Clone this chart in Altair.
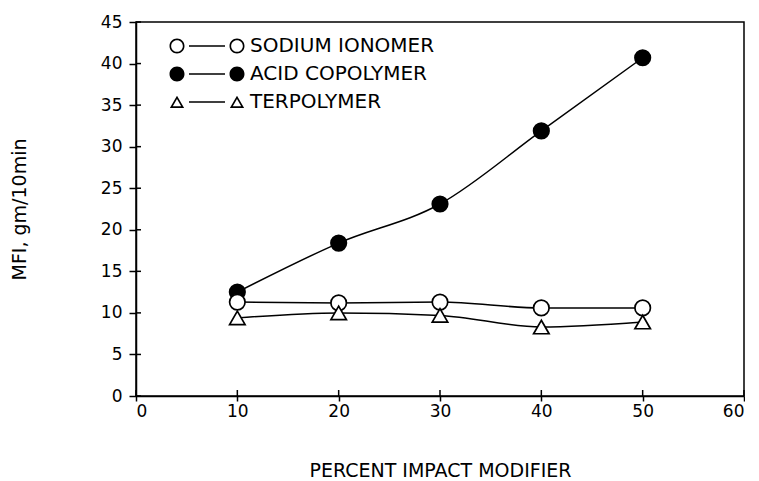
import altair as alt
import pandas as pd

# ---- data ----
pct = [10, 20, 30, 40, 50]
sodium_ionomer = [11.3, 11.2, 11.3, 10.6, 10.6]
acid_copolymer = [12.5, 18.4, 23.1, 31.9, 40.7]
terpolymer = [9.4, 10.0, 9.7, 8.3, 8.9]
series_names = ["SODIUM IONOMER", "ACID COPOLYMER", "TERPOLYMER"]
x_ticks = [0, 10, 20, 30, 40, 50, 60]
y_ticks = [0, 5, 10, 15, 20, 25, 30, 35, 40, 45]

W, H = 608, 374
FONT = "DejaVu Sans"

rows = []
for name, vals in [("ACID COPOLYMER", acid_copolymer),
                   ("SODIUM IONOMER", sodium_ionomer),
                   ("TERPOLYMER", terpolymer)]:
    for p, v in zip(pct, vals):
        rows.append({"pct": p, "mfi": v, "series": name})
df = pd.DataFrame(rows)

xtick_df = pd.DataFrame({"pct": x_ticks})
ytick_df = pd.DataFrame({"mfi": y_ticks})

x_enc = alt.X(
    "pct:Q",
    scale=alt.Scale(domain=[0, 60], nice=False),
    axis=alt.Axis(values=x_ticks, title="PERCENT IMPACT MODIFIER", grid=False,
                  tickSize=5, labelPadding=2, titlePadding=42),
)
y_enc = alt.Y(
    "mfi:Q",
    scale=alt.Scale(domain=[0, 45], nice=False),
    axis=alt.Axis(values=y_ticks, title="MFI, gm/10min", grid=False,
                  tickSize=7, labelPadding=7, titlePadding=71),
)


# ---- legend glyphs "marker — marker", built as filled outlines (symbol units) ----
def f(v):
    return f"{v:.3f}"


def disk(cx, r=1.0):
    return (f"M {f(cx + r)},0 A {r},{r} 0 1,1 {f(cx - r)},0 "
            f"A {r},{r} 0 1,1 {f(cx + r)},0 Z ")


def ring(cx, r=1.0, t=0.22):
    ri = r - t
    return disk(cx, r) + (f"M {f(cx + ri)},0 A {ri},{ri} 0 1,0 {f(cx - ri)},0 "
                          f"A {ri},{ri} 0 1,0 {f(cx + ri)},0 Z ")


def tri_ring(cx):
    outer = f"M {f(cx)},-0.85 L {f(cx + 0.95)},0.8 L {f(cx - 0.95)},0.8 Z "
    inner = f"M {f(cx)},-0.40 L {f(cx - 0.56)},0.575 L {f(cx + 0.56)},0.575 Z "
    return outer + inner


def dash(a=2.4, h=0.1):
    return f"M {f(-a)},{f(-h)} L {f(a)},{f(-h)} L {f(a)},{f(h)} L {f(-a)},{f(h)} Z "


sym_open = ring(-4.0) + dash() + ring(4.0)
sym_filled = disk(-4.0) + dash() + disk(4.0)
sym_tri = tri_ring(-4.0) + dash() + tri_ring(4.0)

fill_range = ["white", "black", "white"]

lines = alt.Chart(df).mark_line(
    interpolate="monotone", color="black", strokeWidth=1.5
).encode(x=x_enc, y=y_enc, detail="series:N")

points = alt.Chart(df).mark_point(
    size=240, strokeWidth=1.7, color="black", opacity=1
).encode(
    x=x_enc, y=y_enc,
    shape=alt.Shape("series:N",
                    scale=alt.Scale(domain=series_names,
                                    range=["circle", "circle", "triangle-up"]),
                    legend=None),
    fill=alt.Fill("series:N",
                  scale=alt.Scale(domain=series_names, range=fill_range),
                  legend=None),
)

legend_layer = alt.Chart(df).transform_filter("false").mark_point(
    size=225, filled=True, color="black", opacity=1
).encode(
    x=x_enc, y=y_enc,
    shape=alt.Shape(
        "series:N",
        scale=alt.Scale(domain=series_names,
                        range=[sym_open, sym_filled, sym_tri]),
        legend=alt.Legend(
            orient="none", legendX=61, legendY=14, title=None,
            labelFont=FONT, labelFontSize=20, labelColor="black", labelLimit=500,
            labelOffset=33, rowPadding=8, padding=0,
            symbolSize=225, symbolFillColor="black", symbolStrokeWidth=0,
            symbolOpacity=1,
        ),
    ),
)

y_inner = alt.Chart(ytick_df).mark_rule(color="black", strokeWidth=1.5).encode(
    y=y_enc, x=alt.value(0), x2=alt.value(5)
)
x_inner = alt.Chart(xtick_df).mark_rule(color="black", strokeWidth=1.5).encode(
    x=x_enc, y=alt.value(H - 6), y2=alt.value(H)
)

chart = alt.layer(lines, points, legend_layer, y_inner, x_inner).resolve_scale(
    shape="independent"
).properties(
    width=W, height=H,
    padding={"left": 2, "top": 5, "right": 0, "bottom": 0},
).configure_view(
    stroke="black", strokeWidth=1.5
).configure_axis(
    domainColor="black", domainWidth=1.5, tickColor="black", tickWidth=1.5,
    labelFont=FONT, labelFontSize=17, labelColor="black",
    titleFont=FONT, titleFontSize=19, titleColor="black", titleFontWeight="normal",
)

chart.save("out.html", embed_options={"renderer": "svg", "actions": False})
